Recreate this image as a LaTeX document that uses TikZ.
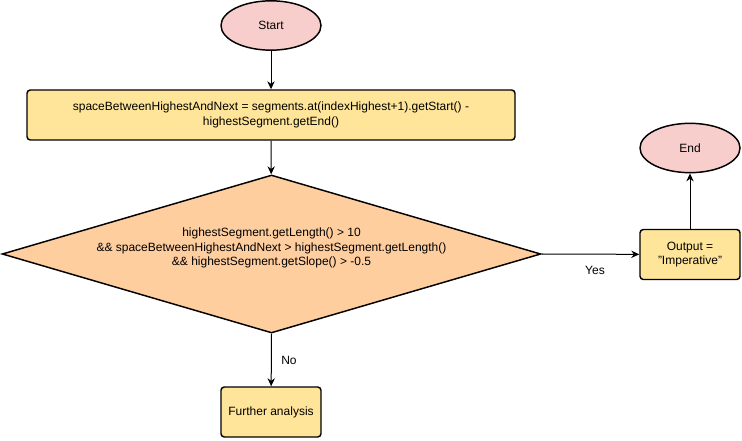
\documentclass[tikz,border=0pt]{standalone}
\usepackage{fontspec}
\setmainfont{Liberation Sans}
\usetikzlibrary{shapes.geometric,arrows.meta}

\definecolor{termfill}{HTML}{F8CECC}
\definecolor{boxfill}{HTML}{FFE599}
\definecolor{testfill}{HTML}{FFCE9F}

\tikzset{
  term/.style={ellipse, draw, line width=1.1pt, fill=termfill, minimum width=75pt, minimum height=37pt, inner sep=0pt},
  stepbox/.style={rectangle, rounded corners=2.5pt, draw, line width=1.1pt, fill=boxfill, minimum height=37.5pt, align=center, inner sep=2pt},
  test/.style={diamond, aspect=3.4, draw, line width=1.1pt, fill=testfill, minimum width=404pt, minimum height=118.5pt, inner sep=0pt, align=center},
  flow/.style={line width=0.75pt, -{Stealth[length=6pt,width=5.5pt]}}
}

\begin{document}
\begin{tikzpicture}[x=0.75pt,y=-0.75pt,font=\fontsize{9pt}{10.8pt}\selectfont]
\useasboundingbox (0,0) rectangle (742,441);
\coordinate (S) at (271,25.5);
\coordinate (A) at (271,115);
\coordinate (D) at (271.5,254);
\coordinate (F) at (271,412);
\coordinate (O) at (690,254.5);
\coordinate (E) at (690,148);
\coordinate (Y) at (595,270);
\coordinate (N) at (289,360);

\node [term] (start) at (S) {Start};
\node [stepbox, minimum width=366pt] (space) at (A) {spaceBetweenHighestAndNext = segments.at(indexHighest+1).getStart() -\\highestSegment.getEnd()};
\node [test] (cond) at (D) {highestSegment.getLength() > 10\\\&\& spaceBetweenHighestAndNext > highestSegment.getLength()\\\&\& highestSegment.getSlope() > -0.5\\~};
\node [stepbox, minimum width=75pt] (further) at (F) {Further analysis};
\node [stepbox, minimum width=75pt] (output) at (O) {Output =\\"Imperative"};
\node [term] (end) at (E) {End};

\draw [flow] (start) -- (space);
\draw [flow] (space) -- (cond);
\draw [flow] (cond.south) -- (further);
\draw [flow] (cond.east) -- (output);
\draw [flow] (output) -- (end);
\node at (Y) {Yes};
\node at (N) {No};
\end{tikzpicture}
\end{document}
